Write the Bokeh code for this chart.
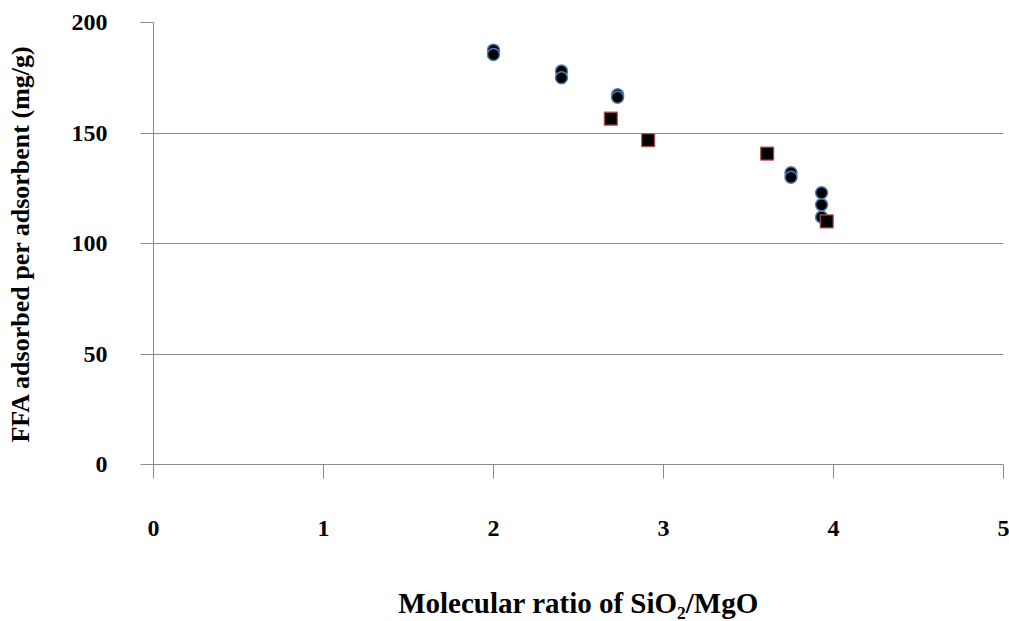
from bokeh.plotting import figure
from bokeh.models import Range1d, FixedTicker
from bokeh.embed import file_html
from bokeh.resources import INLINE

# Data
circle_x = [2.0, 2.0, 2.4, 2.4, 2.73, 2.73, 3.75, 3.75, 3.93, 3.93, 3.93]
circle_y = [187.5, 185.5, 178.0, 175.0, 167.3, 166.2, 132.0, 130.0, 123.0, 117.5, 112.0]
square_x = [2.69, 2.91, 3.61, 3.96]
square_y = [156.5, 146.8, 140.7, 110.0]
x_ticks = [0, 1, 2, 3, 4, 5]
y_ticks = [0, 50, 100, 150, 200]

FONT = "Liberation Serif"
GRID = "#8a8a8a"

p = figure(width=1009, height=621,
           x_range=Range1d(0, 5), y_range=Range1d(0, 200),
           output_backend="svg", toolbar_location=None,
           min_border_left=153, min_border_right=6, min_border_top=22,
           min_border_bottom=157, outline_line_color=None,
           background_fill_color="white", border_fill_color="white")

p.xgrid.grid_line_color = None
p.ygrid.grid_line_color = GRID
p.ygrid.grid_line_width = 1
p.ygrid.ticker = FixedTicker(ticks=y_ticks)

p.xaxis.ticker = FixedTicker(ticks=x_ticks)
p.yaxis.ticker = FixedTicker(ticks=y_ticks)
for ax in (p.xaxis, p.yaxis):
    ax.axis_line_color = GRID
    ax.major_tick_line_color = GRID
    ax.minor_tick_line_color = None
    ax.major_tick_in = 0
    ax.major_label_text_font = FONT
    ax.major_label_text_font_style = "bold"
    ax.major_label_text_font_size = "24px"
    ax.major_label_text_color = "black"
    ax.axis_label_text_font = FONT
    ax.axis_label_text_font_style = "bold"
    ax.axis_label_text_color = "black"

p.xaxis.major_tick_out = 14
p.xaxis.major_label_standoff = 42
p.xaxis.axis_label = "Molecular ratio of SiO\u2082/MgO"
p.xaxis.axis_label_text_font_size = "29px"
p.xaxis.axis_label_standoff = 48

p.yaxis.major_tick_out = 13
p.yaxis.major_label_standoff = 33
p.yaxis.axis_label = "FFA adsorbed per adsorbent (mg/g)"
p.yaxis.axis_label_text_font_size = "26px"
p.yaxis.axis_label_standoff = 34

p.scatter(circle_x, circle_y, marker="circle", size=12,
          fill_color="black", line_color="#4a7ebb", line_width=1.5)
p.scatter(square_x, square_y, marker="square", size=13,
          fill_color="black", line_color="#c0504d", line_width=1.2)

open("out.html", "w").write(file_html(p, INLINE))
